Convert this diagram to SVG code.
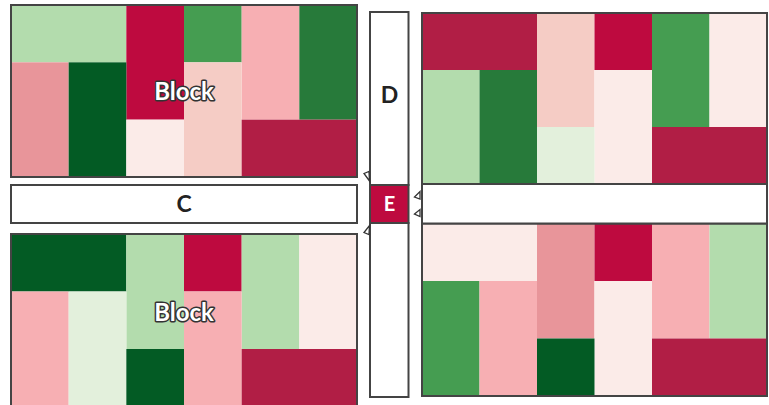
<svg xmlns="http://www.w3.org/2000/svg" width="769" height="405" viewBox="0 0 769 405">
<style>
.LG{fill:#b3dcad}.R{fill:#be0a3f}.G{fill:#459d51}.P{fill:#f7afb3}.G2{fill:#277a3a}.Ro{fill:#e8959a}.DG{fill:#035b24}.LP{fill:#f5ccc5}.VLP{fill:#fbebe8}.RD{fill:#b11e45}.VLG{fill:#e3f0dc}
.frame{fill:none;stroke:#444;stroke-width:2}
.bar{fill:#fff;stroke:#444;stroke-width:2}
.lbl{font-family:Lato,"Open Sans",sans-serif;font-weight:700;font-size:23px;fill:#222;text-anchor:middle}
.blk{font-family:Lato,"Open Sans",sans-serif;font-weight:700;font-size:24px;fill:#fff;stroke:#333;stroke-width:3;paint-order:stroke;stroke-linejoin:round;text-anchor:middle}
.arr{fill:#fff;stroke:#333;stroke-width:1.3;stroke-linejoin:miter}
</style>
<rect width="769" height="405" fill="#fff"/>
<g id="block-top-left">
<rect class="LG" x="11" y="5" width="115.33" height="57.33"/>
<rect class="R" x="126.33" y="5" width="57.67" height="114.67"/>
<rect class="G" x="184" y="5" width="57.67" height="57.33"/>
<rect class="P" x="241.67" y="5" width="57.67" height="114.67"/>
<rect class="G2" x="299.33" y="5" width="57.67" height="114.67"/>
<rect class="Ro" x="11" y="62.33" width="57.67" height="114.67"/>
<rect class="DG" x="68.67" y="62.33" width="57.67" height="114.67"/>
<rect class="LP" x="184" y="62.33" width="57.67" height="114.67"/>
<rect class="VLP" x="126.33" y="119.67" width="57.67" height="57.33"/>
<rect class="RD" x="241.67" y="119.67" width="115.33" height="57.33"/>
<rect class="frame" x="11" y="5" width="346" height="172"/>
<text class="blk" x="184" y="100">Block</text>
</g>
<g id="block-bottom-left">
<rect class="DG" x="11" y="234" width="115.33" height="57.5"/>
<rect class="LG" x="126.33" y="234" width="57.67" height="115"/>
<rect class="R" x="184" y="234" width="57.67" height="57.5"/>
<rect class="LG" x="241.67" y="234" width="57.67" height="115"/>
<rect class="VLP" x="299.33" y="234" width="57.67" height="115"/>
<rect class="P" x="11" y="291.5" width="57.67" height="115"/>
<rect class="VLG" x="68.67" y="291.5" width="57.67" height="115"/>
<rect class="P" x="184" y="291.5" width="57.67" height="115"/>
<rect class="DG" x="126.33" y="349" width="57.67" height="57.5"/>
<rect class="RD" x="241.67" y="349" width="115.33" height="57.5"/>
<rect class="frame" x="11" y="234" width="346" height="172.5"/>
<text class="blk" x="184" y="321">Block</text>
</g>
<g id="block-top-right">
<rect class="RD" x="422" y="13" width="115" height="57"/>
<rect class="LP" x="537" y="13" width="57.5" height="114"/>
<rect class="R" x="594.5" y="13" width="57.5" height="57"/>
<rect class="G" x="652" y="13" width="57.5" height="114"/>
<rect class="VLP" x="709.5" y="13" width="57.5" height="114"/>
<rect class="LG" x="422" y="70" width="57.5" height="114"/>
<rect class="G2" x="479.5" y="70" width="57.5" height="114"/>
<rect class="VLP" x="594.5" y="70" width="57.5" height="114"/>
<rect class="VLG" x="537" y="127" width="57.5" height="57"/>
<rect class="RD" x="652" y="127" width="115" height="57"/>
<rect class="frame" x="422" y="13" width="345" height="171"/>
</g>
<g id="block-bottom-right">
<rect class="VLP" x="422" y="223.5" width="115" height="57.5"/>
<rect class="Ro" x="537" y="223.5" width="57.5" height="115"/>
<rect class="R" x="594.5" y="223.5" width="57.5" height="57.5"/>
<rect class="P" x="652" y="223.5" width="57.5" height="115"/>
<rect class="LG" x="709.5" y="223.5" width="57.5" height="115"/>
<rect class="G" x="422" y="281" width="57.5" height="115"/>
<rect class="P" x="479.5" y="281" width="57.5" height="115"/>
<rect class="VLP" x="594.5" y="281" width="57.5" height="115"/>
<rect class="DG" x="537" y="338.5" width="57.5" height="57.5"/>
<rect class="RD" x="652" y="338.5" width="115" height="57.5"/>
<rect class="frame" x="422" y="223.5" width="345" height="172.5"/>
</g>
<g id="bar-right">
<rect class="bar" x="422" y="184" width="345" height="39.5"/>
</g>
<g id="C">
<rect class="bar" x="11" y="185" width="346" height="38"/>
<text class="lbl" x="184" y="212">C</text>
</g>
<g id="D">
<rect class="bar" x="370" y="12" width="38.5" height="173"/>
<text class="lbl" x="389.5" y="103">D</text>
</g>
<g id="bar-bottom">
<rect class="bar" x="370" y="223" width="38.5" height="174"/>
</g>
<g id="E">
<rect x="370" y="185" width="38.5" height="38" fill="#be0a3f" stroke="#444" stroke-width="2"/>
<text class="lbl" x="389.5" y="211" style="fill:#fff;font-size:20px">E</text>
</g>
<g id="connectors">
<polygon class="arr" points="364,173.5 369,171.5 369.5,181"/>
<polygon class="arr" points="369.5,225.5 369,234.5 364,232.5"/>
<polygon class="arr" points="414.5,197 420,191.5 420,199"/>
<polygon class="arr" points="414.5,214 420,209.5 420,216.5"/>
</g>
</svg>
